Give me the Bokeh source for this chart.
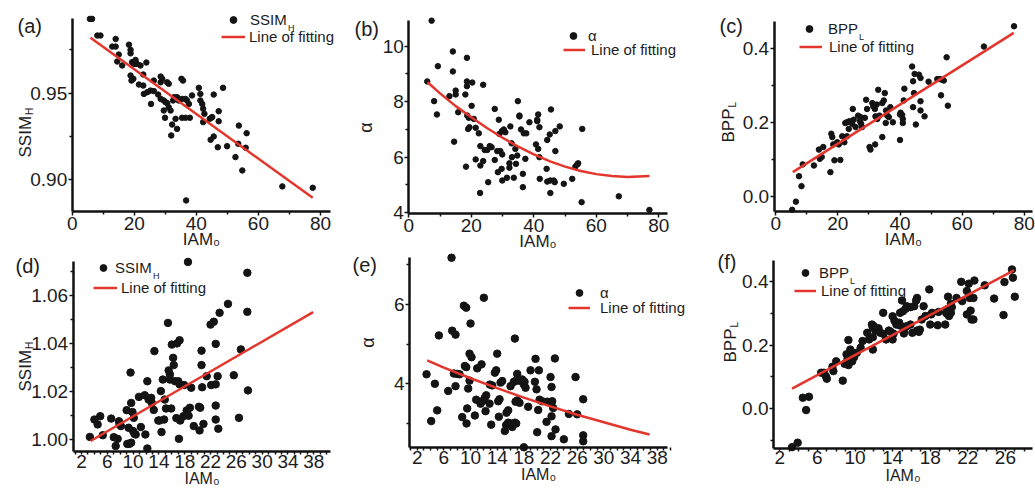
import math
from bokeh.plotting import figure
from bokeh.layouts import gridplot
from bokeh.models import Range1d, FixedTicker, PrintfTickFormatter, Label, Legend, LegendItem
from bokeh.embed import file_html
from bokeh.resources import INLINE

FONT = "Liberation Sans"
RED = "#e3352b"
DOT = "#141414"
TXT = "#1c1c1c"

# ---------------- data ----------------
A_x = [5.7, 6.4, 8.1, 9.1, 14.0, 12.9, 14.0, 18.3, 18.8, 18.8,
       15.0, 14.5, 16.1, 19.3, 19.9, 20.9, 20.4, 22.0, 23.9, 18.8,
       19.1, 19.7, 22.9, 21.5, 22.9, 26.3, 28.5, 29.0, 28.5, 30.6,
       31.1, 35.2, 35.7, 23.1, 24.2, 25.2, 26.3, 27.7, 25.4, 28.5,
       29.5, 30.1, 30.6, 31.1, 31.7, 29.5, 29.9, 32.5, 32.8, 33.8,
       32.2, 31.9, 33.8, 33.3, 35.4, 36.5, 37.9, 34.3, 35.4, 36.5,
       37.0, 37.6, 38.6, 40.8, 41.3, 41.3, 41.9, 42.2, 42.6, 42.2,
       44.3, 44.8, 45.1, 45.6, 48.6, 47.2, 47.2, 44.6, 45.6, 46.9,
       49.9, 52.6, 53.7, 53.5, 56.2, 55.9, 54.8, 67.7, 77.5, 36.7]
A_y = [0.9929, 0.9929, 0.9833, 0.9833, 0.9813, 0.9769, 0.9769, 0.9780, 0.9750, 0.9730,
       0.9723, 0.9683, 0.9660, 0.9679, 0.9669, 0.9669, 0.9692, 0.9660, 0.9677, 0.9602,
       0.9573, 0.9583, 0.9608, 0.9550, 0.9544, 0.9573, 0.9596, 0.9583, 0.9563, 0.9563,
       0.9554, 0.9583, 0.9573, 0.9496, 0.9506, 0.9515, 0.9512, 0.9492, 0.9438, 0.9467,
       0.9458, 0.9448, 0.9442, 0.9419, 0.9400, 0.9400, 0.9358, 0.9458, 0.9477, 0.9477,
       0.9319, 0.9256, 0.9294, 0.9352, 0.9358, 0.9358, 0.9358, 0.9458, 0.9467, 0.9467,
       0.9458, 0.9438, 0.9487, 0.9531, 0.9496, 0.9458, 0.9438, 0.9410, 0.9381, 0.9333,
       0.9352, 0.9358, 0.9362, 0.9492, 0.9531, 0.9396, 0.9338, 0.9231, 0.9250, 0.9188,
       0.9194, 0.9131, 0.9313, 0.9208, 0.9269, 0.9185, 0.9054, 0.8962, 0.8954, 0.8881]
A_fit_x = [5.9, 77.5]
A_fit_y = [0.9820, 0.8896]

B_x = [7.3, 9.3, 14.1, 14.1, 18.6, 5.9, 18.6, 18.6, 20.3, 23.8,
       15.0, 15.0, 13.0, 18.1, 8.1, 9.0, 15.8, 20.1, 18.7, 19.2,
       20.8, 19.4, 19.0, 21.4, 22.4, 14.5, 18.3, 21.4, 22.9, 24.3,
       25.1, 25.9, 26.5, 22.9, 23.8, 22.8, 25.4, 27.5, 28.8, 29.0,
       29.8, 30.4, 30.9, 32.5, 28.3, 29.3, 29.9, 27.5, 28.5, 29.7,
       29.9, 31.4, 32.2, 33.6, 32.2, 32.9, 34.1, 33.0, 34.7, 34.3,
       34.9, 35.4, 35.4, 35.9, 36.8, 37.6, 38.6, 37.3, 36.5, 36.5,
       41.1, 41.1, 41.4, 40.7, 41.4, 41.8, 41.8, 41.9, 44.3, 45.1,
       45.5, 46.9, 48.3, 46.9, 44.1, 44.3, 45.3, 46.4, 46.7, 45.3,
       49.6, 52.3, 53.3, 53.9, 54.2, 55.5, 55.3, 67.2, 77.0]
B_y = [10.92, 9.28, 9.81, 9.09, 9.58, 8.73, 8.73, 8.56, 8.69, 8.61,
       8.40, 8.26, 8.20, 8.26, 8.02, 7.54, 7.62, 7.85, 7.50, 7.42,
       7.38, 7.08, 7.02, 7.06, 6.86, 6.56, 5.66, 5.92, 6.40, 6.26,
       6.26, 6.40, 6.36, 5.70, 5.86, 4.71, 5.10, 7.74, 7.35, 6.84,
       6.94, 7.00, 6.90, 7.11, 6.22, 6.22, 6.10, 5.90, 5.46, 5.58,
       5.16, 5.26, 5.62, 5.26, 5.78, 6.50, 6.30, 6.00, 6.06, 5.76,
       8.02, 7.50, 7.47, 7.00, 6.86, 6.86, 7.26, 5.94, 5.40, 4.92,
       7.35, 7.30, 7.54, 6.46, 6.30, 7.08, 6.00, 5.22, 6.62, 6.82,
       7.72, 6.94, 7.11, 6.22, 5.58, 5.12, 5.16, 5.16, 5.10, 4.71,
       5.04, 5.22, 5.66, 5.74, 5.78, 7.02, 4.38, 4.59, 4.10]
B_fit_x = [6, 10, 15, 20, 25, 30, 35, 40, 45, 50, 55, 60, 65, 70, 77]
B_fit_y = [8.70, 8.30, 7.84, 7.44, 7.05, 6.70, 6.38, 6.10, 5.86, 5.66, 5.50, 5.39, 5.32, 5.29, 5.32]

C_x = [5.3, 6.5, 7.5, 8.3, 8.7, 12.3, 13.9, 14.2, 15.3, 14.8,
       17.6, 17.9, 18.2, 18.5, 18.9, 19.8, 20.3, 20.8, 21.4, 22.1,
       22.4, 22.9, 23.7, 23.5, 22.9, 24.8, 25.1, 24.6, 25.7, 26.5,
       27.3, 27.5, 27.8, 27.1, 29.1, 29.4, 28.7, 30.2, 30.5, 32.0,
       31.1, 31.4, 31.9, 32.5, 33.0, 32.1, 32.7, 33.4, 34.3, 34.3,
       34.8, 35.1, 35.5, 35.9, 36.4, 36.9, 35.4, 37.7, 40.0, 40.2,
       40.7, 40.9, 40.0, 41.2, 41.4, 40.9, 43.9, 44.2, 44.5, 44.7,
       46.1, 46.6, 44.2, 46.6, 46.6, 45.1, 47.9, 49.2, 52.0, 52.9,
       53.6, 54.1, 53.2, 55.4, 55.0, 67.0, 76.7]
C_y = [-0.036, -0.014, 0.055, 0.028, 0.087, 0.084, 0.127, 0.102, 0.134, 0.107,
       0.066, 0.170, 0.161, 0.141, 0.098, 0.147, 0.141, 0.099, 0.163, 0.147,
       0.199, 0.201, 0.204, 0.183, 0.163, 0.237, 0.208, 0.197, 0.188, 0.219,
       0.215, 0.197, 0.188, 0.204, 0.262, 0.237, 0.213, 0.134, 0.127, 0.141,
       0.253, 0.244, 0.237, 0.249, 0.289, 0.217, 0.210, 0.219, 0.161, 0.253,
       0.260, 0.280, 0.233, 0.219, 0.215, 0.242, 0.199, 0.201, 0.153, 0.227,
       0.221, 0.210, 0.222, 0.260, 0.292, 0.199, 0.352, 0.312, 0.280, 0.332,
       0.330, 0.321, 0.242, 0.233, 0.258, 0.195, 0.217, 0.311, 0.318, 0.318,
       0.316, 0.314, 0.274, 0.246, 0.377, 0.406, 0.461]
C_fit_x = [5.5, 76.6]
C_fit_y = [0.066, 0.443]

D_x = [3.3, 4.0, 4.5, 4.9, 5.3, 6.6, 7.0, 7.3, 7.6, 7.8,
       7.9, 8.1, 9.0, 9.1, 9.4, 9.7, 9.3, 9.6, 9.7, 9.9,
       10.1, 10.0, 10.2, 10.4, 10.9, 11.2, 11.8, 11.9, 12.2, 12.2,
       12.4, 12.8, 12.9, 13.3, 13.2, 13.9, 14.1, 14.3, 14.4, 14.6,
       14.8, 14.9, 15.1, 15.4, 15.5, 15.7, 15.7, 15.9, 16.0, 16.2,
       16.3, 16.5, 16.8, 17.2, 17.0, 17.2, 17.1, 16.7, 17.3, 17.8,
       17.9, 18.3, 18.6, 18.8, 18.5, 19.0, 19.4, 20.2, 20.4, 20.3,
       20.6, 20.6, 20.7, 20.9, 21.4, 22.0, 22.5, 22.1, 22.8, 22.8,
       22.8, 22.8, 23.1, 23.2, 23.4, 24.7, 25.6, 26.4, 26.7, 27.7,
       27.7, 27.8]
D_y = [1.0012, 1.0084, 1.0064, 1.0098, 1.0019, 1.0088, 1.0011, 0.9974, 1.0004, 1.0077,
       1.0064, 1.0057, 1.0123, 0.9983, 0.9983, 0.9988, 1.0050, 1.0279, 1.0153, 1.0115,
       1.0091, 1.0036, 1.0025, 1.0022, 1.0178, 1.0053, 1.0185, 1.0022, 0.9964, 1.0243,
       1.0167, 1.0174, 1.0153, 1.0368, 1.0124, 1.0080, 1.0080, 1.0202, 1.0032, 1.0250,
       1.0084, 1.0167, 1.0130, 1.0485, 1.0288, 1.0271, 1.0250, 1.0130, 1.0395, 1.0340,
       1.0310, 1.0243, 1.0400, 1.0413, 1.0243, 1.0230, 1.0004, 1.0090, 1.0080, 1.0098,
       1.0227, 1.0122, 1.0100, 1.0133, 1.0738, 1.0216, 1.0057, 1.0137, 1.0133, 1.0039,
       1.0370, 1.0310, 1.0218, 1.0066, 1.0264, 1.0478, 1.0490, 1.0227, 1.0398, 1.0230,
       1.0142, 1.0084, 1.0264, 1.0046, 1.0527, 1.0564, 1.0268, 1.0091, 1.0375, 1.0693,
       1.0531, 1.0205]
D_fit_x = [3.4, 37.9]
D_fit_y = [0.9995, 1.0530]

E_x = [7.15, 3.4, 4.1, 4.65, 5.0, 5.25, 6.65, 7.25, 7.75, 7.5,
       8.0, 8.35, 7.75, 8.75, 9.0, 9.35, 9.15, 9.35, 9.4, 9.5,
       9.65, 9.85, 10.0, 9.85, 10.15, 10.65, 10.85, 11.0, 11.65, 11.5,
       11.75, 12.0, 12.15, 12.35, 12.25, 12.9, 12.85, 13.1, 13.25, 13.65,
       13.85, 14.0, 14.15, 14.25, 14.35, 14.5, 14.75, 15.15, 15.35, 15.65,
       16.0, 16.25, 15.4, 15.65, 16.0, 16.65, 16.5, 16.75, 17.0, 17.5,
       16.65, 16.85, 16.75, 17.0, 17.35, 17.75, 18.0, 18.25, 18.1, 18.0,
       18.65, 19.0, 19.65, 19.75, 19.9, 20.15, 20.25, 20.0, 20.35, 20.75,
       21.4, 21.5, 21.9, 22.0, 22.15, 22.15, 22.25, 22.4, 22.15, 22.65,
       22.75, 24.0, 24.75, 25.75, 26.0, 26.9, 26.9, 26.9]
E_y = [7.18, 4.24, 3.06, 4.00, 3.33, 5.22, 3.82, 5.34, 5.24, 4.26,
       4.25, 4.24, 3.94, 3.16, 5.97, 5.92, 4.45, 4.42, 3.00, 3.38,
       3.88, 4.08, 5.52, 4.76, 4.67, 3.20, 3.60, 4.39, 4.49, 3.50,
       3.56, 6.17, 3.65, 3.71, 3.31, 3.98, 3.50, 2.97, 3.96, 4.28,
       4.34, 4.76, 3.56, 3.17, 3.61, 4.03, 4.07, 2.81, 2.96, 3.02,
       3.00, 2.91, 3.27, 3.33, 3.94, 5.14, 4.05, 4.07, 4.25, 4.07,
       3.02, 3.00, 3.55, 3.58, 3.52, 4.11, 3.98, 3.90, 4.05, 2.40,
       3.42, 4.34, 4.05, 4.63, 3.86, 3.34, 4.34, 2.78, 3.60, 3.56,
       3.04, 3.55, 3.52, 4.17, 3.92, 3.18, 3.56, 3.39, 2.68, 4.64,
       2.85, 2.60, 3.24, 4.17, 3.23, 3.61, 2.70, 2.55]
E_fit_x = [3.5, 6, 10, 14, 18, 22, 26, 30, 34, 36.85]
E_fit_y = [4.59, 4.41, 4.14, 3.89, 3.65, 3.43, 3.22, 3.03, 2.84, 2.72]

F_x = [3.3, 3.9, 4.45, 5.1, 4.8, 6.4, 6.7, 6.9, 7.0, 7.6,
       7.7, 8.0, 8.7, 8.9, 9.1, 9.2, 9.3, 9.3, 9.5, 9.8,
       9.9, 9.7, 10.2, 10.6, 10.8, 11.3, 11.5, 11.8, 11.9, 12.0,
       12.2, 11.9, 11.9, 12.5, 12.7, 13.0, 13.0, 13.3, 13.6, 13.8,
       14.0, 14.1, 14.0, 14.2, 14.4, 14.7, 14.8, 14.8, 15.1, 15.4,
       15.5, 15.0, 15.2, 15.2, 15.5, 15.9, 16.3, 16.5, 16.6, 15.9,
       16.1, 16.6, 16.8, 16.9, 17.1, 17.3, 17.5, 17.9, 18.0, 18.1,
       18.2, 18.8, 18.9, 19.6, 19.7, 19.8, 20.0, 20.2, 19.8, 19.9,
       20.2, 20.3, 20.8, 21.3, 21.4, 21.9, 22.1, 22.2, 21.9, 22.3,
       22.4, 22.6, 22.7, 22.6, 23.8, 24.8, 25.8, 25.9, 26.7, 26.8,
       27.0]
F_y = [-0.122, -0.108, 0.034, 0.037, -0.005, 0.113, 0.113, 0.102, 0.094, 0.132,
       0.118, 0.149, 0.088, 0.141, 0.171, 0.155, 0.137, 0.216, 0.186, 0.176,
       0.162, 0.149, 0.176, 0.192, 0.213, 0.239, 0.218, 0.265, 0.255, 0.260,
       0.246, 0.225, 0.186, 0.253, 0.239, 0.236, 0.302, 0.218, 0.246, 0.242,
       0.218, 0.236, 0.291, 0.277, 0.265, 0.271, 0.262, 0.302, 0.307, 0.315,
       0.323, 0.341, 0.246, 0.237, 0.260, 0.320, 0.323, 0.341, 0.349, 0.265,
       0.239, 0.246, 0.242, 0.249, 0.281, 0.323, 0.292, 0.376, 0.265, 0.297,
       0.302, 0.263, 0.305, 0.265, 0.302, 0.299, 0.292, 0.302, 0.313, 0.353,
       0.331, 0.320, 0.349, 0.400, 0.339, 0.371, 0.394, 0.349, 0.297, 0.309,
       0.281, 0.349, 0.404, 0.281, 0.389, 0.347, 0.295, 0.399, 0.439, 0.413,
       0.353]
F_fit_x = [3.3, 26.9]
F_fit_y = [0.063, 0.436]

X_TICKS_80 = [0, 20, 40, 60, 80]
X_TICKS_38 = [2, 6, 10, 14, 18, 22, 26, 30, 34, 38]
X_TICKS_26 = [2, 6, 10, 14, 18, 22, 26]
X_LABEL = "IAM\u2080"

# ---------------- layout geometry (page pixels) ----------------
ROWS = [dict(top=0, H=252), dict(top=252, H=235)]
COLS = [dict(left=0, W=345), dict(left=345, W=345), dict(left=690, W=345)]


def lab(p, g, text, X, Y, size, angle=0.0, align="left", baseline="alphabetic"):
    p.add_layout(Label(x=X - g["fl"], y=g["fb"] - Y, x_units="screen", y_units="screen",
                       text=text, angle=angle, text_align=align, text_baseline=baseline,
                       text_font=FONT, text_font_size=f"{size}px", text_color=TXT))


def leg(p, g, renderer, text, tx, cy, gw=24, standoff=4, h=17):
    lg = Legend(items=[LegendItem(label=text, renderers=[renderer])],
                location=(tx - standoff - gw - g["fl"], g["fb"] - (cy + h / 2.0)),
                padding=0, margin=0, spacing=0, glyph_width=gw, glyph_height=h,
                label_height=h, label_standoff=standoff, border_line_color=None,
                background_fill_alpha=0, label_text_font=FONT,
                label_text_font_size="15px", label_text_color=TXT)
    p.add_layout(lg)


def panel(r, c, xs, ys, fx, fy, xcal, ycal, xbounds, ybounds, xt, xminor, yt, yminor, yfmt, dot,
          x_tick_out=4, x_standoff=2, xlab_size=17, xlab_standoff=-4):
    R, C = ROWS[r], COLS[c]
    g = dict(fl=C["left"], fb=R["top"] + R["H"])
    (xa, Xa), (xb, Xb) = xcal
    (ya, Ya), (yb, Yb) = ycal
    kx = (Xb - Xa) / (xb - xa)
    ky = (Yb - Ya) / (yb - ya)
    x_of = lambda X: xa + (X - Xa) / kx
    y_of = lambda Y: ya + (Y - Ya) / ky
    p = figure(width=C["W"], height=R["H"], min_border=0, min_border_left=0, min_border_right=0,
               min_border_top=0, min_border_bottom=0,
               x_range=Range1d(x_of(C["left"]), x_of(C["left"] + C["W"])),
               y_range=Range1d(y_of(R["top"] + R["H"]), y_of(R["top"])), title=None,
               output_backend="svg", toolbar_location=None)
    p.xgrid.visible = False
    p.ygrid.visible = False
    p.outline_line_color = None
    p.background_fill_color = "white"
    p.border_fill_color = "white"
    for ax in (p.xaxis[0], p.yaxis[0]):
        ax.axis_line_width = 2.5
        ax.axis_line_color = "#111111"
        ax.major_tick_out = 4
        ax.major_tick_in = 0
        ax.major_tick_line_width = 1.5
        ax.major_tick_line_color = "#111111"
        ax.minor_tick_out = 3
        ax.minor_tick_in = 0
        ax.minor_tick_line_width = 1.5
        ax.minor_tick_line_color = "#111111"
        ax.major_label_text_font = FONT
        ax.major_label_text_font_size = "19px"
        ax.major_label_text_color = TXT
        ax.major_label_standoff = 2
    xa_ = p.xaxis[0]
    xa_.major_tick_out = x_tick_out
    xa_.major_label_standoff = x_standoff
    xa_.fixed_location = ybounds[0]
    xa_.bounds = xbounds
    xa_.axis_label = X_LABEL
    xa_.axis_label_text_font = FONT
    xa_.axis_label_text_font_style = "normal"
    xa_.axis_label_text_font_size = f"{xlab_size}px"
    xa_.axis_label_text_color = TXT
    xa_.axis_label_standoff = xlab_standoff
    p.yaxis[0].fixed_location = xbounds[0]
    p.yaxis[0].bounds = ybounds
    p.yaxis[0].major_label_standoff = 1
    xa_.ticker = FixedTicker(ticks=xt, minor_ticks=xminor)
    p.yaxis[0].ticker = FixedTicker(ticks=yt, minor_ticks=yminor)
    xa_.formatter = PrintfTickFormatter(format="%d")
    p.yaxis[0].formatter = PrintfTickFormatter(format=yfmt)
    sc = p.scatter(xs, ys, size=dot, color=DOT, line_color=DOT)
    ln = p.line(fx, fy, line_color=RED, line_width=2.5)
    return p, g, sc, ln


WID = {"S": 0.667, "I": 0.278, "M": 0.833, "A": 0.667, "B": 0.667, "P": 0.667}


def sub_label(p, g, main, sub, X, Y, size=17, sub_size=10):
    """vertical label with subscript; (X, Y) = start of main text on its baseline"""
    width = sum(WID[ch] for ch in main) * size
    lab(p, g, main, X, Y, size, angle=math.pi / 2)
    lab(p, g, sub, X + 4, Y - width - 1, sub_size, angle=math.pi / 2)


# ---------------- (a) ----------------
pa, ga, sa, la = panel(0, 0, A_x, A_y, A_fit_x, A_fit_y,
                       ((0, 71.7), (80, 320.0)), ((0.95, 92.7), (0.90, 179.3)),
                       (0, 83.2), (0.8817, 0.9931),
                       X_TICKS_80, [10, 30, 50, 70], [0.90, 0.95], [0.925, 0.975], "%.2f", 5.5)
lab(pa, ga, "(a)", 17, 25, 20, baseline="middle")
sub_label(pa, ga, "SSIM", "H", 25, 157)
leg(pa, ga, sa, "SSIM", 250, 19.5, gw=24, standoff=5)
lab(pa, ga, "H", 287.5, 27.5, 9)
leg(pa, ga, la, "Line of fitting", 249, 36, gw=24, standoff=4)

# ---------------- (b) ----------------
pb, gb, sb, lb = panel(0, 1, B_x, B_y, B_fit_x, B_fit_y,
                       ((0, 408.3), (80, 658.3)), ((10, 45.7), (6, 156.7)),
                       (0, 82.8), (3.98, 10.93),
                       X_TICKS_80, [10, 30, 50, 70], [4, 6, 8, 10], [5, 7, 9], "%d", 5.5)
lab(pb, gb, "(b)", 354, 28, 20, baseline="middle")
lab(pb, gb, "α", 365, 127, 18, angle=math.pi / 2, align="center", baseline="middle")
leg(pb, gb, sb, "α", 588, 35, gw=24, standoff=3)
leg(pb, gb, lb, "Line of fitting", 591, 49.5, gw=22, standoff=6)

# ---------------- (c) ----------------
pc, gc, scc, lc = panel(0, 2, C_x, C_y, C_fit_x, C_fit_y,
                        ((0, 775.2), (80, 1023.8)), ((0.4, 48.3), (0.0, 196.0)),
                        (-0.5, 82.6), (-0.0406, 0.474),
                        X_TICKS_80, [10, 30, 50, 70], [0.0, 0.2, 0.4], [0.1, 0.3], "%.1f", 5.5)
lab(pc, gc, "(c)", 719, 25, 20, baseline="middle")
sub_label(pc, gc, "BPP", "L", 728, 142)
leg(pc, gc, scc, "BPP", 828, 28.5, gw=24, standoff=7)
lab(pc, gc, "L", 858.5, 36.5, 9)
leg(pc, gc, lc, "Line of fitting", 829, 46, gw=23, standoff=7)

MINOR_38 = [x for x in range(1, 41) if x not in X_TICKS_38]
MINOR_26 = [x for x in range(2, 29) if x not in X_TICKS_26]

# ---------------- (d) ----------------
pd_, gd, sd, ld = panel(1, 0, D_x, D_y, D_fit_x, D_fit_y,
                        ((2, 81.0), (38, 313.3)), ((1.06, 294.7), (1.00, 439.3)),
                        (0.71, 40.6), (0.9951, 1.074),
                        X_TICKS_38, MINOR_38, [1.00, 1.02, 1.04, 1.06], [1.01, 1.03, 1.05, 1.07],
                        "%.2f", 7.5, x_tick_out=3, x_standoff=0, xlab_size=16, xlab_standoff=-1)
lab(pd_, gd, "(d)", 15, 265, 20, baseline="middle")
sub_label(pd_, gd, "SSIM", "H", 25, 391)
leg(pd_, gd, sd, "SSIM", 115, 267, gw=24, standoff=0)
lab(pd_, gd, "H", 152.5, 275, 9)
leg(pd_, gd, ld, "Line of fitting", 121, 287, gw=24, standoff=4)

# ---------------- (e) ----------------
pe, ge, se, le = panel(1, 1, E_x, E_y, E_fit_x, E_fit_y,
                       ((2, 416.7), (38, 656.7)), ((6, 304.0), (4, 383.3)),
                       (0.85, 39.5), (2.39, 7.18),
                       X_TICKS_38, MINOR_38, [4, 6], [3, 5, 7], "%d", 7.5,
                       x_tick_out=3, x_standoff=0, xlab_size=16, xlab_standoff=-1)
lab(pe, ge, "(e)", 352, 264, 20, baseline="middle")
lab(pe, ge, "α", 367, 342, 18, angle=math.pi / 2, align="center", baseline="middle")
leg(pe, ge, se, "α", 600, 292, gw=24, standoff=9)
leg(pe, ge, le, "Line of fitting", 600, 307.5, gw=22, standoff=10)

# ---------------- (f) ----------------
pf, gf, sf, lf = panel(1, 2, F_x, F_y, F_fit_x, F_fit_y,
                       ((2, 779.3), (26, 1004.9)), ((0.4, 281.3), (0.0, 408.0)),
                       (1.33, 28.9), (-0.126, 0.467),
                       X_TICKS_26, MINOR_26, [0.0, 0.2, 0.4], [-0.1, 0.1, 0.3], "%.1f", 7.5,
                       x_tick_out=3, x_standoff=0, xlab_size=16, xlab_standoff=-1)
lab(pf, gf, "(f)", 717, 261, 20, baseline="middle")
sub_label(pf, gf, "BPP", "L", 730, 362)
leg(pf, gf, sf, "BPP", 819, 272, gw=24, standoff=2)
lab(pf, gf, "L", 849.5, 280, 9)
leg(pf, gf, lf, "Line of fitting", 821, 290, gw=22, standoff=5)

grid = gridplot([[pa, pb, pc], [pd_, pe, pf]], toolbar_location=None)

open("out.html", "w").write(file_html(grid, INLINE))
